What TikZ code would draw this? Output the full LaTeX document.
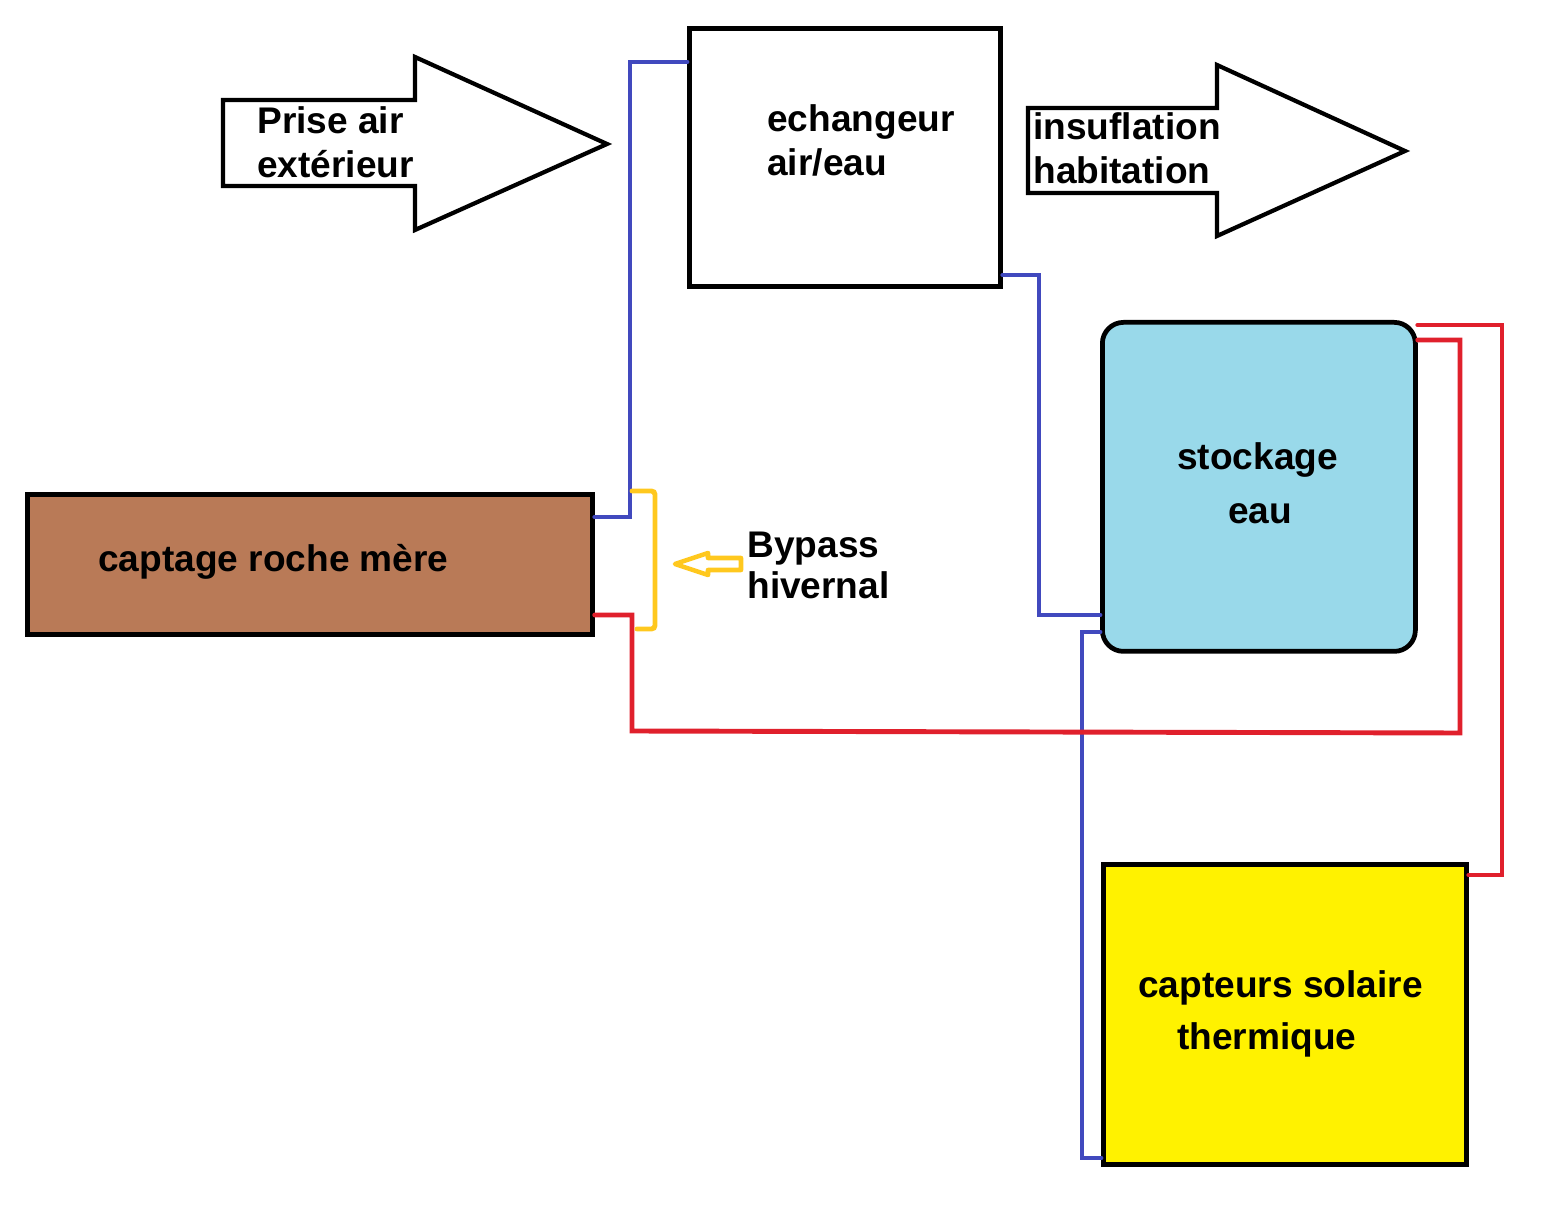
\documentclass[tikz,border=0pt]{standalone}
\usepackage{fontspec}
\setmainfont{Liberation Sans}
\usepackage{tikz}
\definecolor{pipeblue}{HTML}{4149BE}
\definecolor{pipered}{HTML}{E0202C}
\definecolor{bypass}{HTML}{FFC81E}
\definecolor{roche}{HTML}{B97A57}
\definecolor{stock}{HTML}{99D9EA}
\definecolor{solaire}{HTML}{FFF200}
\tikzset{
  bloc/.style={draw=black,line width=2.7pt,minimum width=#1,anchor=north west,inner sep=0pt},
  label/.style={align=left,anchor=west,font=\bfseries\fontsize{21.1}{25}\selectfont,inner sep=0pt},
  fleche/.style={draw=black,line width=2.4pt,line join=miter},
  bleu/.style={draw=pipeblue,line width=2.8pt,line cap=round},
  rouge/.style={draw=pipered,line width=2.8pt,line cap=round},
  jaune/.style={draw=bypass,line width=2.8pt,line cap=round,rounded corners=2pt}
}
\begin{document}
\begin{tikzpicture}[x=.02cm,y=-.02cm]
  \useasboundingbox (0,0) rectangle (1552,1212);
  % blocs
  \node[bloc=311*.02cm,minimum height=258*.02cm] (echangeur) at (687,26) {};
  \node[bloc=565*.02cm,minimum height=140*.02cm,fill=roche] (captage) at (25,492) {};
  \node[bloc=313*.02cm,minimum height=329*.02cm,fill=stock,rounded corners=12pt] (stockage) at (1100,320) {};
  \node[bloc=363*.02cm,minimum height=300*.02cm,fill=solaire] (capteurs) at (1101,862) {};
  % grosses fleches
  \draw[fleche] (223,100)--(415,100)--(415,57)--(607,144)--(415,230)--(415,186)--(223,186)--cycle;
  \draw[fleche] (1028,108)--(1217,108)--(1217,65)--(1405,151)--(1217,236)--(1217,193)--(1028,193)--cycle;
  % points libres
  \coordinate (b1) at (630,62);
  \coordinate (b2) at (630,517);
  \coordinate (b3) at (1039,275);
  \coordinate (b4) at (1039,615);
  \coordinate (b5) at (1082,632);
  \coordinate (b6) at (1082,1158);
  \coordinate (r1) at (632,615);
  \coordinate (r2) at (632,731);
  \coordinate (r3) at (1460,733);
  \coordinate (r4) at (1460,340);
  \coordinate (r5) at (1502,325);
  \coordinate (r6) at (1502,875);
  % circuit bleu
  \draw[bleu] (echangeur.west |- b1)--(b1)--(b2)--(captage.east |- b2);
  \draw[bleu] (echangeur.east |- b3)--(b3)--(b4)--(stockage.west |- b4);
  \draw[bleu] (stockage.west |- b5)--(b5)--(b6)--(capteurs.west |- b6);
  % circuit rouge
  \draw[rouge] (captage.east |- r1)--(r1)--(r2)--(r3)--(r4)--(stockage.east |- r4);
  \draw[rouge] (stockage.east |- r5)--(r5)--(r6)--(capteurs.east |- r6);
  % bypass
  \coordinate (j1) at (632,491);
  \coordinate (j2) at (655,491);
  \coordinate (j3) at (655,629);
  \coordinate (j4) at (637,629);
  \draw[jaune] (j1)--(j2)--(j3)--(j4);
  \draw[draw=bypass,line width=2.6pt,line join=round] (675,564)--(708,553)--(708,558)--(741,558)--(741,570)--(708,570)--(708,575)--cycle;
  % textes
  \node[label] (prise) at (257,142) {Prise air\\extérieur};
  \node[label] (echange) at (767,140) {echangeur\\air/eau};
  \node[label] (insufl) at (1033,148) {insuflation\\habitation};
  \node[label] (roche) at (98,562) {captage roche mère};
  \node[label,font=\bfseries\fontsize{21.1}{23.4}\selectfont] (hiver) at (747,565) {Bypass\\hivernal};
  \node[label] (sto1) at (1177,460) {stockage};
  \node[label] (sto2) at (1228,514) {eau};
  \node[label] (cap1) at (1138,988) {capteurs solaire};
  \node[label] (cap2) at (1177,1040) {thermique};
\end{tikzpicture}
\end{document}
